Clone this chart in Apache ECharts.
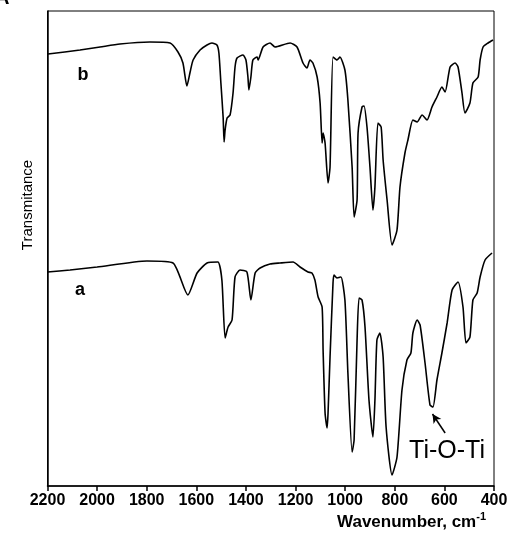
<!DOCTYPE html>
<html><head><meta charset="utf-8">
<script src="https://cdn.jsdelivr.net/npm/echarts@6/dist/echarts.min.js"></script>
<style>html,body{margin:0;padding:0;background:#fff}#c{width:511px;height:544px}</style>
</head><body><div id="c"></div>
<script>
// Wavenumber (cm-1) and transmittance (arbitrary units, offset curves)
const wnB = [2198,2069,1988,1908,1787,1706,1674,1654,1638,1625,1613,1585,1557,1537,1517,1509,1501,1492,1488,1484,1476,1464,1452,1444,1436,1412,1400,1392,1388,1380,1372,1355,1351,1331,1303,1283,1222,1194,1170,1154,1142,1130,1113,1101,1093,1089,1081,1069,1061,1049,1033,1021,1001,989,972,964,952,948,932,924,912,900,888,880,868,855,847,831,811,791,779,759,747,727,710,690,670,650,630,610,597,577,557,545,529,517,497,485,464,456,444,424,404];
const tB  = [432,436,439,442,444,443,434,423,400,414,426,436,441,443,441,433,403,369,344,356,368,371,393,419,428,431,426,409,396,409,426,429,426,439,443,439,443,439,423,418,426,423,409,383,343,353,343,303,319,429,426,429,416,386,319,269,286,353,379,380,359,319,276,299,363,359,326,286,241,256,299,333,346,366,364,371,366,379,389,399,394,419,423,419,393,373,383,403,409,426,439,443,446];
const wnA = [2200,2109,2000,1799,1694,1634,1597,1557,1513,1497,1484,1472,1456,1444,1424,1396,1380,1363,1343,1303,1263,1210,1182,1150,1134,1122,1109,1093,1089,1081,1073,1069,1061,1049,1045,1033,1017,1001,989,972,964,952,944,932,920,904,888,880,872,860,847,835,811,791,771,751,735,727,710,698,678,658,646,630,610,589,569,545,525,513,497,485,468,456,436,408];
const tA  = [214,216,219,225,223,191,213,223,224,206,148,159,166,209,216,214,186,213,218,222,223,224,219,214,213,206,189,179,136,73,58,73,129,203,211,208,209,186,113,34,46,146,188,186,159,86,49,86,146,153,129,59,11,29,96,126,133,153,166,161,123,81,79,106,133,163,196,204,179,143,149,186,193,209,226,233];
const xTicks = [2200,2000,1800,1600,1400,1200,1000,800,600,400];
const curveLabels = ['b','a'];
const annotation = 'Ti-O-Ti';

const chart = echarts.init(document.getElementById('c'), null, {renderer:'canvas'});
const toPairs = (xs, ys) => xs.map((x,i)=>[x, ys[i]]);
chart.setOption({
  animation:false,
  grid:{left:47.5, right:17, top:11, bottom:58, show:true, borderColor:'#000', borderWidth:1},
  xAxis:{type:'value', min:400, max:2200, interval:200, inverse:true,
    axisLine:{show:true, onZero:false, lineStyle:{color:'#000', width:1.5}},
    axisTick:{show:true, inside:false, length:5, lineStyle:{color:'#000', width:1.5}},
    axisLabel:{color:'#000', fontFamily:'Liberation Sans, Arial, sans-serif', fontWeight:'bold', fontSize:16, margin:7,
      formatter:v=>xTicks.includes(v)?String(v):''},
    splitLine:{show:false}},
  yAxis:{type:'value', min:0, max:475, show:true,
    axisLine:{show:true, lineStyle:{color:'#000', width:1.5}}, axisTick:{show:false}, axisLabel:{show:false}, splitLine:{show:false}},
  series:[
    {type:'line', data:toPairs(wnB,tB), showSymbol:false, smooth:0.2, lineStyle:{color:'#000', width:1.6}},
    {type:'line', data:toPairs(wnA,tA), showSymbol:false, smooth:0.2, lineStyle:{color:'#000', width:1.6},
      markLine:{silent:true, symbol:['none','arrow'], symbolSize:[7,9], label:{show:false},
        lineStyle:{color:'#000', width:1.5, type:'solid'},
        data:[[{coord:[597,53]},{coord:[648,72]}]]}}
  ],
  graphic:[
    {type:'text', left:-5, top:-12, style:{text:'A', font:'bold 20px Liberation Sans, Arial, sans-serif', fill:'#000'}},
    {type:'text', x:83, y:75, style:{text:curveLabels[0], font:'bold 18px Liberation Sans, Arial, sans-serif', fill:'#000', textAlign:'center', textVerticalAlign:'middle'}},
    {type:'text', x:80, y:290, style:{text:curveLabels[1], font:'bold 18px Liberation Sans, Arial, sans-serif', fill:'#000', textAlign:'center', textVerticalAlign:'middle'}},
    {type:'text', x:447, y:451, style:{text:annotation, font:'25px Liberation Sans, Arial, sans-serif', fill:'#000', textAlign:'center', textVerticalAlign:'middle'}},
    {type:'text', x:28, y:205, rotation:Math.PI/2, style:{text:'Transmitance', font:'15px Liberation Sans, Arial, sans-serif', fill:'#000', textAlign:'center', textVerticalAlign:'middle'}},
    {type:'text', x:486, y:521, style:{text:'{n|Wavenumber, cm}{s|-1}', textAlign:'right', textVerticalAlign:'middle',
      rich:{n:{font:'bold 17px Liberation Sans, Arial, sans-serif', fill:'#000', verticalAlign:'bottom'},
            s:{font:'bold 11px Liberation Sans, Arial, sans-serif', fill:'#000', padding:[0,0,9,0], verticalAlign:'bottom'}}}}
  ]
});
</script></body></html>
